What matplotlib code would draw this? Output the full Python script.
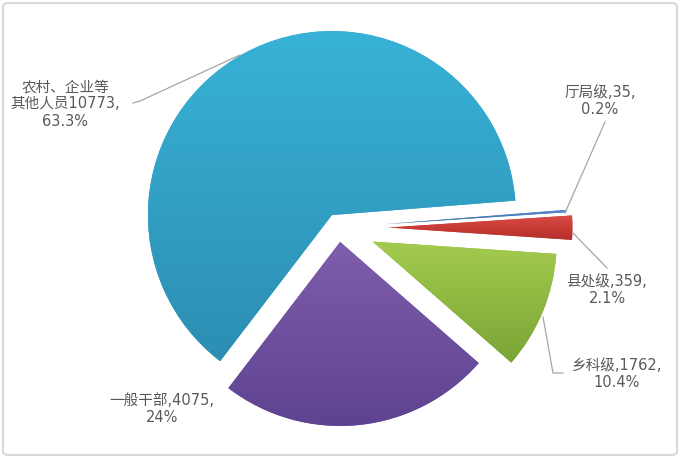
import numpy as np
import matplotlib
matplotlib.use("Agg")
import matplotlib.pyplot as plt
from matplotlib.colors import LinearSegmentedColormap
from matplotlib.patches import FancyBboxPatch

plt.rcParams['font.family'] = ['DejaVu Sans', 'Noto Sans CJK SC']

# ---- data ----
categories = ['厅局级', '县处级', '乡科级', '一般干部', '农村、企业等\n其他人员']
values = [35, 359, 1762, 4075, 10773]
percent_labels = ['0.2%', '2.1%', '10.4%', '24%', '63.3%']

# ---- style ----
explode = [0.24, 0.27, 0.20, 0.079, 0.077]
top_colors = ['#5A8ED0', '#DC4A44', '#A3CB4E', '#7E5DAC', '#38B2D7']
bot_colors = ['#3A69A8', '#B32E2A', '#7AA536', '#5E4391', '#2C8EB2']
base_colors = ['#4A7EBB', '#CC3C37', '#90BA43', '#6E50A0', '#33A2C7']

W, H = 680, 458
R = 184.0
CX, CY = 338.7, 227.5


def px(x, y):
    return ((x - CX) / R, (CY - y) / R)


fig = plt.figure(figsize=(W / 100, H / 100), dpi=100)
ax = fig.add_axes([0, 0, 1, 1])

wedges, _ = ax.pie(values, explode=explode, colors=base_colors, startangle=4.5,
                   counterclock=False, radius=1.0, center=(0, 0),
                   wedgeprops=dict(linewidth=0))

for w, ct, cb in zip(wedges, top_colors, bot_colors):
    ext = w.get_path().get_extents()
    cmap = LinearSegmentedColormap.from_list('g', [cb, ct])
    grad = np.linspace(0, 1, 256).reshape(-1, 1)
    im = ax.imshow(grad, extent=[ext.x0, ext.x1, ext.y0, ext.y1], origin='lower',
                   cmap=cmap, aspect='auto', interpolation='bilinear', zorder=2)
    im.set_clip_path(w)

txt_color = '#595959'
fs = 10.5

# labels (positions in pixel coords of the reference)
label_pos = [(600, 101), (607, 290), (617, 374), (162, 409), (65, 104)]
texts = [
    f"{categories[0]},{values[0]},\n{percent_labels[0]}",
    f"{categories[1]},{values[1]},\n{percent_labels[1]}",
    f"{categories[2]},{values[2]},\n{percent_labels[2]}",
    f"{categories[3]},{values[3]},\n{percent_labels[3]}",
    f"{categories[4]}{values[4]},\n{percent_labels[4]}",
]
for (x, y), t in zip(label_pos, texts):
    ax.text(*px(x, y), t, ha='center', va='center', color=txt_color,
            fontsize=fs, linespacing=1.2, zorder=5)

leaders = [
    [(605, 122), (565, 213)],
    [(573, 233), (607, 268)],
    [(543, 317), (553, 373), (563, 373)],
    [(133, 103), (140, 101), (240, 55)],
]
for pts in leaders:
    xs, ys = zip(*[px(a, b) for a, b in pts])
    ax.plot(xs, ys, color='#A6A6A6', lw=0.9, zorder=4)

ax.set_xlim(px(0, 0)[0], px(W, 0)[0])
ax.set_ylim(px(0, H)[1], px(0, 0)[1])
ax.set_aspect('auto')
ax.axis('off')

border = FancyBboxPatch((3 / W, 3 / H), 1 - 6 / W, 1 - 6 / H,
                        boxstyle='round,pad=0,rounding_size=0.008',
                        transform=fig.transFigure, fill=False,
                        edgecolor='#D9D9D9', linewidth=1.5)
fig.patches.append(border)

fig.savefig('out.png', dpi=100, facecolor='white')
